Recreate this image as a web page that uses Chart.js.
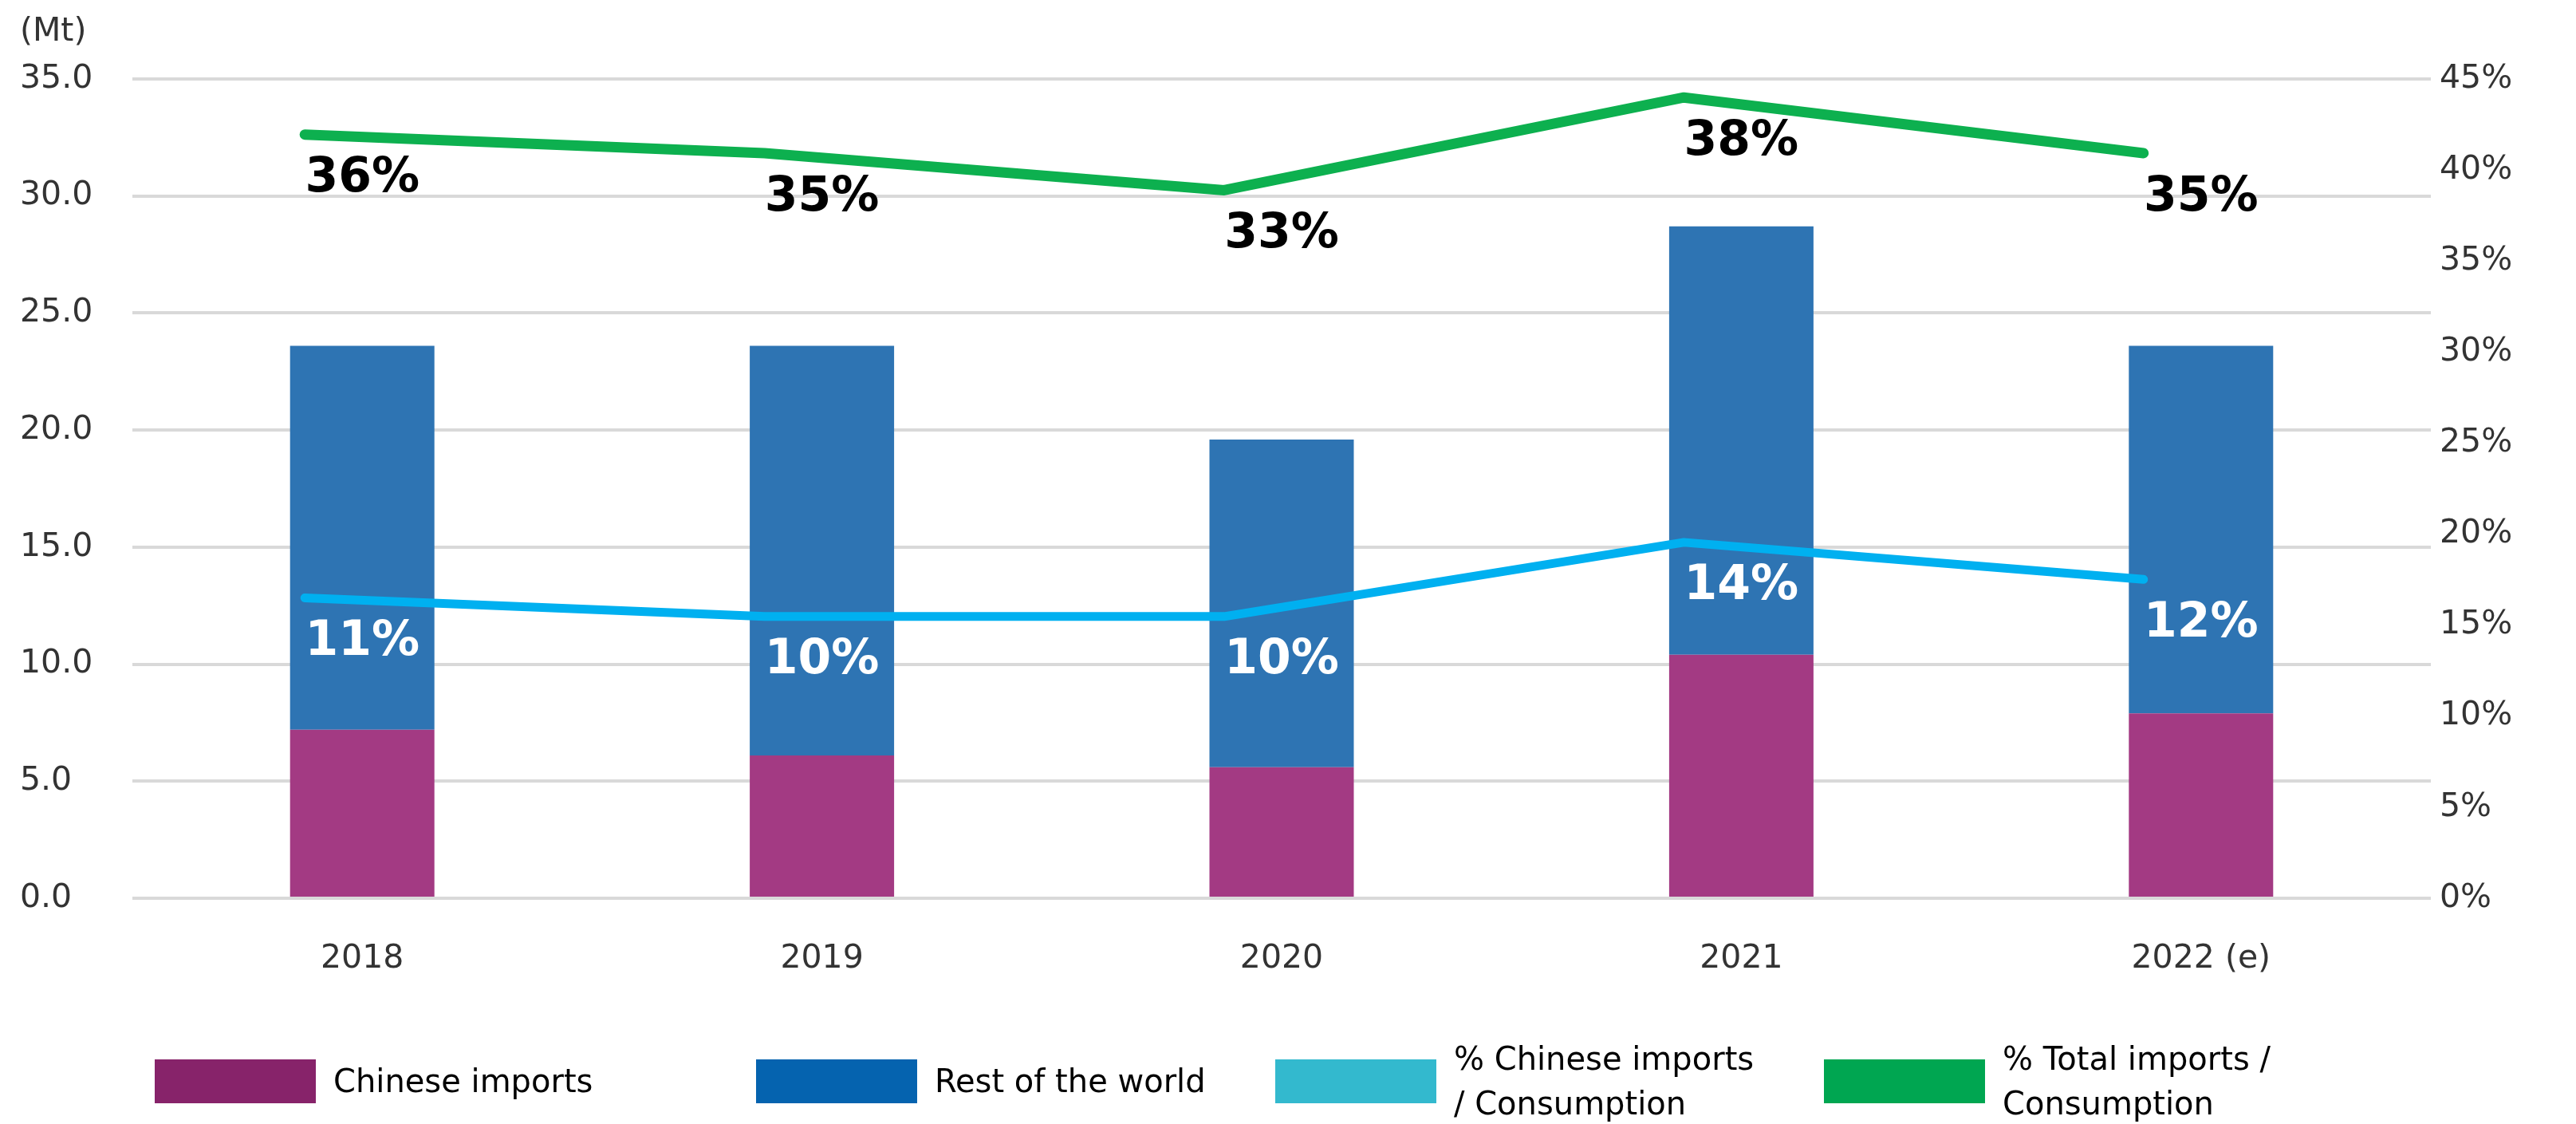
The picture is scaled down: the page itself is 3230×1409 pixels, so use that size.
<!DOCTYPE html>
<html>
<head>
<meta charset="utf-8">
<title>Imports and consumption share</title>
<script src="https://cdn.jsdelivr.net/npm/chart.js@4.4.1/dist/chart.umd.min.js"></script>
<style>
    html, body { margin: 0; padding: 0; background: #fff; }
    .wrap {
        position: relative;
        width: 3230px;
        height: 1409px;
        font-family: "DejaVu Sans", Verdana, sans-serif;
    }
    #importsChart { position: absolute; left: 0; top: 0; }
    .unit {
        position: absolute;
        left: 25px;
        top: 12px;
        font-size: 41px;
        line-height: 50px;
        color: #333;
    }
    .legend-item {
        position: absolute;
        top: 1327px;
        height: 56px;
        display: flex;
        align-items: center;
    }
    .legend-item .swatch { width: 202px; height: 55px; margin-right: 22px; flex: none; }
    .legend-item .text { font-size: 40px; line-height: 56px; color: #000; white-space: nowrap; }
</style>
</head>
<body>
<div class="wrap">
    <canvas id="importsChart" width="3230" height="1409"></canvas>
    <div class="unit">(Mt)</div>
    <div id="legend"></div>
</div>
<script>
// categories and series
const years = ['2018', '2019', '2020', '2021', '2022 (e)'];
const chineseImports = [7.2, 6.1, 5.6, 10.4, 7.9];   // Mt
const restOfWorld = [16.4, 17.5, 14.0, 18.3, 15.7];  // Mt
const chineseShare = [11, 10, 10, 14, 12];           // % of consumption
const totalShare = [36, 35, 33, 38, 35];             // % of consumption

// axis ranges
const volumeRange = [0, 35, 5];
const percentRange = [0, 45, 5];
// the share lines run on their own hidden scale
const shareScaleRange = [-5.2, 39];

const legendItems = [
    { text: 'Chinese imports', color: '#87236a', left: 194 },
    { text: 'Rest of the world', color: '#0563af', left: 948 },
    { text: '% Chinese imports\n/ Consumption', color: '#33b9ce', left: 1599 },
    { text: '% Total imports /\nConsumption', color: '#00a651', left: 2287 }
];

const FONT = '"DejaVu Sans", Verdana, sans-serif';
Chart.defaults.font.family = FONT;
Chart.defaults.color = '#333';

// shifts the line datasets sideways by a fraction of one category
const lineShift = {
    id: 'lineShift',
    beforeDatasetDraw(chart, args, opts) {
        if (chart.data.datasets[args.index].type !== 'line') return;
        const x = chart.scales.x;
        const step = x.getPixelForValue(1) - x.getPixelForValue(0);
        chart.ctx.save();
        chart.ctx.translate(step * opts.fraction, 0);
    },
    afterDatasetDraw(chart, args) {
        if (chart.data.datasets[args.index].type !== 'line') return;
        chart.ctx.restore();
    }
};

// percentage labels under each line point, centred on the category
const shareLabels = {
    id: 'shareLabels',
    afterDatasetsDraw(chart, args, opts) {
        const ctx = chart.ctx;
        const x = chart.scales.x;
        chart.data.datasets.forEach((ds, i) => {
            if (!ds.labelColor) return;
            const meta = chart.getDatasetMeta(i);
            ctx.save();
            ctx.font = opts.font;
            ctx.fillStyle = ds.labelColor;
            ctx.textAlign = 'center';
            ctx.textBaseline = 'middle';
            meta.data.forEach((pt, j) => {
                ctx.fillText(ds.data[j] + '%', x.getPixelForValue(j), pt.y + opts.offset);
            });
            ctx.restore();
        });
    }
};

function buildLegend() {
    const host = document.getElementById('legend');
    host.innerHTML = legendItems.map(item => `
        <div class="legend-item" style="left:${item.left}px">
            <div class="swatch" style="background:${item.color}"></div>
            <div class="text">${item.text.split('\n').join('<br>')}</div>
        </div>
    `).join('');
}

function buildChart() {
    const tickFont = { size: 41 };

    new Chart(document.getElementById('importsChart'), {
        data: {
            labels: years,
            datasets: [
                {
                    type: 'line',
                    label: '% Total imports / Consumption',
                    data: totalShare,
                    yAxisID: 'yShare',
                    borderColor: '#0db04f',
                    borderWidth: 13,
                    borderCapStyle: 'round',
                    borderJoinStyle: 'round',
                    pointRadius: 0,
                    tension: 0,
                    labelColor: '#000',
                    order: 0
                },
                {
                    type: 'line',
                    label: '% Chinese imports / Consumption',
                    data: chineseShare,
                    yAxisID: 'yShare',
                    borderColor: '#00b0f0',
                    borderWidth: 11,
                    borderCapStyle: 'round',
                    borderJoinStyle: 'round',
                    pointRadius: 0,
                    tension: 0,
                    labelColor: '#fff',
                    order: 0
                },
                {
                    type: 'bar',
                    label: 'Chinese imports',
                    data: chineseImports,
                    yAxisID: 'y',
                    backgroundColor: '#a33a83',
                    barPercentage: 0.314,
                    categoryPercentage: 1,
                    order: 1
                },
                {
                    type: 'bar',
                    label: 'Rest of the world',
                    data: restOfWorld,
                    yAxisID: 'y',
                    backgroundColor: '#2e74b3',
                    barPercentage: 0.314,
                    categoryPercentage: 1,
                    order: 1
                }
            ]
        },
        options: {
            responsive: false,
            animation: false,
            layout: { padding: { left: 25, right: 0, top: 99, bottom: 0 } },
            plugins: {
                legend: { display: false },
                tooltip: { enabled: false },
                lineShift: { fraction: -0.125 },
                shareLabels: { font: `bold 60px ${FONT}`, offset: 56 }
            },
            scales: {
                x: {
                    stacked: true,
                    grid: { display: false },
                    border: { display: false },
                    ticks: { font: tickFont, color: '#333', padding: 44 },
                    afterFit: scale => { scale.height = 283; }
                },
                y: {
                    position: 'left',
                    stacked: true,
                    min: volumeRange[0],
                    max: volumeRange[1],
                    grid: { color: '#d9d9d9', lineWidth: 4, drawTicks: false },
                    border: { display: false },
                    ticks: {
                        stepSize: volumeRange[2],
                        font: tickFont,
                        color: '#333',
                        crossAlign: 'far',
                        callback: v => v.toFixed(1)
                    },
                    afterFit: scale => { scale.width = 141; }
                },
                yPercent: {
                    position: 'right',
                    min: percentRange[0],
                    max: percentRange[1],
                    grid: { display: false, drawTicks: false },
                    border: { display: false },
                    ticks: {
                        stepSize: percentRange[2],
                        font: tickFont,
                        color: '#333',
                        padding: 11,
                        callback: v => v + '%'
                    },
                    afterFit: scale => { scale.width = 182; }
                },
                yShare: {
                    display: false,
                    min: shareScaleRange[0],
                    max: shareScaleRange[1]
                }
            }
        },
        plugins: [lineShift, shareLabels]
    });
}

document.addEventListener('DOMContentLoaded', () => {
    buildLegend();
    buildChart();
});
</script>
</body>
</html>
